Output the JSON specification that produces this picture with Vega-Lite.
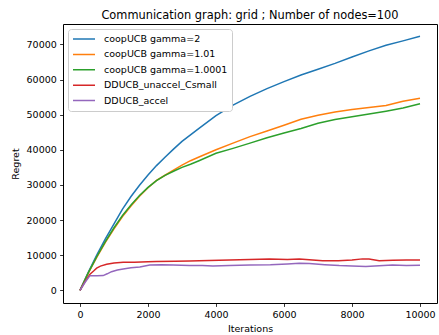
{
  "$schema": "https://vega.github.io/schema/vega-lite/v6.json",
  "width": 374,
  "height": 279,
  "autosize": {"type": "none"},
  "padding": {"left": 63, "top": 24, "right": 2, "bottom": 32},
  "title": {
    "text": "Communication graph: grid ; Number of nodes=100",
    "font": "DejaVu Sans",
    "fontSize": 11.4,
    "fontWeight": "normal",
    "color": "black",
    "anchor": "middle",
    "baseline": "alphabetic",
    "offset": 6,
    "dy": 12
  },
  "config": {
    "view": {"stroke": "black", "strokeWidth": 1},
    "axis": {
      "domain": false,
      "grid": false,
      "labelFont": "DejaVu Sans",
      "labelFontSize": 9.5,
      "labelColor": "black",
      "titleFont": "DejaVu Sans",
      "titleFontSize": 9.5,
      "titleFontWeight": "normal",
      "titleColor": "black",
      "tickColor": "black",
      "tickSize": 3.4,
      "tickWidth": 0.8,
      "labelPadding": 3.3,
      "format": "d"
    },
    "legend": {
      "labelFont": "DejaVu Sans",
      "labelFontSize": 9.5,
      "labelColor": "black"
    }
  },
  "data": {
    "values": [
      {"s": "coopUCB gamma=2", "x": 0, "y": 0},
      {"s": "coopUCB gamma=2", "x": 250, "y": 5300},
      {"s": "coopUCB gamma=2", "x": 500, "y": 10200},
      {"s": "coopUCB gamma=2", "x": 750, "y": 14700},
      {"s": "coopUCB gamma=2", "x": 1000, "y": 18900},
      {"s": "coopUCB gamma=2", "x": 1250, "y": 23100},
      {"s": "coopUCB gamma=2", "x": 1500, "y": 26700},
      {"s": "coopUCB gamma=2", "x": 1750, "y": 29900},
      {"s": "coopUCB gamma=2", "x": 2000, "y": 32800},
      {"s": "coopUCB gamma=2", "x": 2250, "y": 35500},
      {"s": "coopUCB gamma=2", "x": 2500, "y": 37900},
      {"s": "coopUCB gamma=2", "x": 2750, "y": 40200},
      {"s": "coopUCB gamma=2", "x": 3000, "y": 42400},
      {"s": "coopUCB gamma=2", "x": 3500, "y": 46100},
      {"s": "coopUCB gamma=2", "x": 4000, "y": 49700},
      {"s": "coopUCB gamma=2", "x": 4500, "y": 52700},
      {"s": "coopUCB gamma=2", "x": 5000, "y": 55200},
      {"s": "coopUCB gamma=2", "x": 5500, "y": 57400},
      {"s": "coopUCB gamma=2", "x": 6000, "y": 59400},
      {"s": "coopUCB gamma=2", "x": 6500, "y": 61300},
      {"s": "coopUCB gamma=2", "x": 7000, "y": 62950},
      {"s": "coopUCB gamma=2", "x": 7500, "y": 64600},
      {"s": "coopUCB gamma=2", "x": 8000, "y": 66400},
      {"s": "coopUCB gamma=2", "x": 8500, "y": 68150},
      {"s": "coopUCB gamma=2", "x": 9000, "y": 69750},
      {"s": "coopUCB gamma=2", "x": 9500, "y": 71000},
      {"s": "coopUCB gamma=2", "x": 10000, "y": 72300},

      {"s": "coopUCB gamma=1.01", "x": 0, "y": 0},
      {"s": "coopUCB gamma=1.01", "x": 250, "y": 5000},
      {"s": "coopUCB gamma=1.01", "x": 500, "y": 9500},
      {"s": "coopUCB gamma=1.01", "x": 750, "y": 13700},
      {"s": "coopUCB gamma=1.01", "x": 1000, "y": 17500},
      {"s": "coopUCB gamma=1.01", "x": 1250, "y": 21000},
      {"s": "coopUCB gamma=1.01", "x": 1500, "y": 24000},
      {"s": "coopUCB gamma=1.01", "x": 1750, "y": 26750},
      {"s": "coopUCB gamma=1.01", "x": 2000, "y": 29200},
      {"s": "coopUCB gamma=1.01", "x": 2250, "y": 31300},
      {"s": "coopUCB gamma=1.01", "x": 2500, "y": 32750},
      {"s": "coopUCB gamma=1.01", "x": 2750, "y": 34200},
      {"s": "coopUCB gamma=1.01", "x": 3000, "y": 35650},
      {"s": "coopUCB gamma=1.01", "x": 3250, "y": 36900},
      {"s": "coopUCB gamma=1.01", "x": 3500, "y": 37950},
      {"s": "coopUCB gamma=1.01", "x": 4000, "y": 40000},
      {"s": "coopUCB gamma=1.01", "x": 4500, "y": 41900},
      {"s": "coopUCB gamma=1.01", "x": 5000, "y": 43750},
      {"s": "coopUCB gamma=1.01", "x": 5500, "y": 45350},
      {"s": "coopUCB gamma=1.01", "x": 6000, "y": 47000},
      {"s": "coopUCB gamma=1.01", "x": 6500, "y": 48700},
      {"s": "coopUCB gamma=1.01", "x": 7000, "y": 49850},
      {"s": "coopUCB gamma=1.01", "x": 7500, "y": 50750},
      {"s": "coopUCB gamma=1.01", "x": 8000, "y": 51500},
      {"s": "coopUCB gamma=1.01", "x": 8500, "y": 52050},
      {"s": "coopUCB gamma=1.01", "x": 9000, "y": 52600},
      {"s": "coopUCB gamma=1.01", "x": 9500, "y": 53800},
      {"s": "coopUCB gamma=1.01", "x": 10000, "y": 54700},

      {"s": "coopUCB gamma=1.0001", "x": 0, "y": 0},
      {"s": "coopUCB gamma=1.0001", "x": 250, "y": 5100},
      {"s": "coopUCB gamma=1.0001", "x": 500, "y": 9700},
      {"s": "coopUCB gamma=1.0001", "x": 750, "y": 13950},
      {"s": "coopUCB gamma=1.0001", "x": 1000, "y": 17800},
      {"s": "coopUCB gamma=1.0001", "x": 1250, "y": 21300},
      {"s": "coopUCB gamma=1.0001", "x": 1500, "y": 24300},
      {"s": "coopUCB gamma=1.0001", "x": 1750, "y": 27000},
      {"s": "coopUCB gamma=1.0001", "x": 2000, "y": 29300},
      {"s": "coopUCB gamma=1.0001", "x": 2250, "y": 31200},
      {"s": "coopUCB gamma=1.0001", "x": 2500, "y": 32700},
      {"s": "coopUCB gamma=1.0001", "x": 2750, "y": 33900},
      {"s": "coopUCB gamma=1.0001", "x": 3000, "y": 35000},
      {"s": "coopUCB gamma=1.0001", "x": 3250, "y": 35900},
      {"s": "coopUCB gamma=1.0001", "x": 3500, "y": 36900},
      {"s": "coopUCB gamma=1.0001", "x": 4000, "y": 39000},
      {"s": "coopUCB gamma=1.0001", "x": 4500, "y": 40400},
      {"s": "coopUCB gamma=1.0001", "x": 5000, "y": 41900},
      {"s": "coopUCB gamma=1.0001", "x": 5500, "y": 43450},
      {"s": "coopUCB gamma=1.0001", "x": 6000, "y": 44800},
      {"s": "coopUCB gamma=1.0001", "x": 6500, "y": 46050},
      {"s": "coopUCB gamma=1.0001", "x": 7000, "y": 47550},
      {"s": "coopUCB gamma=1.0001", "x": 7500, "y": 48600},
      {"s": "coopUCB gamma=1.0001", "x": 8000, "y": 49400},
      {"s": "coopUCB gamma=1.0001", "x": 8500, "y": 50200},
      {"s": "coopUCB gamma=1.0001", "x": 9000, "y": 51000},
      {"s": "coopUCB gamma=1.0001", "x": 9500, "y": 51900},
      {"s": "coopUCB gamma=1.0001", "x": 10000, "y": 53100},

      {"s": "DDUCB_unaccel_Csmall", "x": 0, "y": 0},
      {"s": "DDUCB_unaccel_Csmall", "x": 150, "y": 2500},
      {"s": "DDUCB_unaccel_Csmall", "x": 293, "y": 4600},
      {"s": "DDUCB_unaccel_Csmall", "x": 400, "y": 5500},
      {"s": "DDUCB_unaccel_Csmall", "x": 490, "y": 6300},
      {"s": "DDUCB_unaccel_Csmall", "x": 600, "y": 6900},
      {"s": "DDUCB_unaccel_Csmall", "x": 783, "y": 7400},
      {"s": "DDUCB_unaccel_Csmall", "x": 1000, "y": 7800},
      {"s": "DDUCB_unaccel_Csmall", "x": 1270, "y": 8000},
      {"s": "DDUCB_unaccel_Csmall", "x": 1600, "y": 8000},
      {"s": "DDUCB_unaccel_Csmall", "x": 2000, "y": 8100},
      {"s": "DDUCB_unaccel_Csmall", "x": 2245, "y": 8200},
      {"s": "DDUCB_unaccel_Csmall", "x": 2800, "y": 8250},
      {"s": "DDUCB_unaccel_Csmall", "x": 3226, "y": 8370},
      {"s": "DDUCB_unaccel_Csmall", "x": 3800, "y": 8500},
      {"s": "DDUCB_unaccel_Csmall", "x": 4400, "y": 8600},
      {"s": "DDUCB_unaccel_Csmall", "x": 5000, "y": 8750},
      {"s": "DDUCB_unaccel_Csmall", "x": 5570, "y": 8950},
      {"s": "DDUCB_unaccel_Csmall", "x": 6100, "y": 8800},
      {"s": "DDUCB_unaccel_Csmall", "x": 6450, "y": 8900},
      {"s": "DDUCB_unaccel_Csmall", "x": 6745, "y": 8700},
      {"s": "DDUCB_unaccel_Csmall", "x": 7135, "y": 8400},
      {"s": "DDUCB_unaccel_Csmall", "x": 7600, "y": 8450},
      {"s": "DDUCB_unaccel_Csmall", "x": 8000, "y": 8600},
      {"s": "DDUCB_unaccel_Csmall", "x": 8310, "y": 8950},
      {"s": "DDUCB_unaccel_Csmall", "x": 8500, "y": 8900},
      {"s": "DDUCB_unaccel_Csmall", "x": 8800, "y": 8450},
      {"s": "DDUCB_unaccel_Csmall", "x": 9200, "y": 8550},
      {"s": "DDUCB_unaccel_Csmall", "x": 9600, "y": 8650},
      {"s": "DDUCB_unaccel_Csmall", "x": 10000, "y": 8650},

      {"s": "DDUCB_accel", "x": 0, "y": 0},
      {"s": "DDUCB_accel", "x": 150, "y": 2300},
      {"s": "DDUCB_accel", "x": 293, "y": 4170},
      {"s": "DDUCB_accel", "x": 500, "y": 4150},
      {"s": "DDUCB_accel", "x": 683, "y": 4200},
      {"s": "DDUCB_accel", "x": 800, "y": 4700},
      {"s": "DDUCB_accel", "x": 927, "y": 5300},
      {"s": "DDUCB_accel", "x": 1100, "y": 5800},
      {"s": "DDUCB_accel", "x": 1270, "y": 6100},
      {"s": "DDUCB_accel", "x": 1500, "y": 6400},
      {"s": "DDUCB_accel", "x": 1760, "y": 6650},
      {"s": "DDUCB_accel", "x": 2053, "y": 7200},
      {"s": "DDUCB_accel", "x": 2400, "y": 7250},
      {"s": "DDUCB_accel", "x": 2737, "y": 7200},
      {"s": "DDUCB_accel", "x": 3226, "y": 7050},
      {"s": "DDUCB_accel", "x": 3600, "y": 7100},
      {"s": "DDUCB_accel", "x": 3910, "y": 6950},
      {"s": "DDUCB_accel", "x": 4400, "y": 7100},
      {"s": "DDUCB_accel", "x": 5000, "y": 7200},
      {"s": "DDUCB_accel", "x": 5600, "y": 7300},
      {"s": "DDUCB_accel", "x": 6100, "y": 7500},
      {"s": "DDUCB_accel", "x": 6450, "y": 7700},
      {"s": "DDUCB_accel", "x": 6745, "y": 7650},
      {"s": "DDUCB_accel", "x": 7200, "y": 7300},
      {"s": "DDUCB_accel", "x": 7625, "y": 7050},
      {"s": "DDUCB_accel", "x": 8000, "y": 6950},
      {"s": "DDUCB_accel", "x": 8407, "y": 6750},
      {"s": "DDUCB_accel", "x": 8800, "y": 7000},
      {"s": "DDUCB_accel", "x": 9190, "y": 7230},
      {"s": "DDUCB_accel", "x": 9600, "y": 7100},
      {"s": "DDUCB_accel", "x": 10000, "y": 7150}
    ]
  },
  "mark": {"type": "line", "strokeWidth": 1.5, "clip": true},
  "encoding": {
    "x": {
      "field": "x",
      "type": "quantitative",
      "scale": {"domain": [-500, 10500], "nice": false, "zero": false},
      "axis": {"title": "Iterations", "values": [0, 2000, 4000, 6000, 8000, 10000], "titlePadding": 4}
    },
    "y": {
      "field": "y",
      "type": "quantitative",
      "scale": {"domain": [-3610, 75810], "nice": false, "zero": false},
      "axis": {"title": "Regret", "values": [0, 10000, 20000, 30000, 40000, 50000, 60000, 70000], "titlePadding": 6}
    },
    "color": {
      "field": "s",
      "type": "nominal",
      "sort": null,
      "scale": {
        "domain": ["coopUCB gamma=2", "coopUCB gamma=1.01", "coopUCB gamma=1.0001", "DDUCB_unaccel_Csmall", "DDUCB_accel"],
        "range": ["#1f77b4", "#ff7f0e", "#2ca02c", "#d62728", "#9467bd"]
      },
      "legend": {
        "title": null,
        "orient": "top-left",
        "offset": 5,
        "symbolType": "stroke",
        "symbolSize": 484,
        "symbolStrokeWidth": 1.5,
        "labelOffset": 8,
        "clipHeight": 12,
        "rowPadding": 3.4,
        "padding": 4,
        "fillColor": "white",
        "strokeColor": "#cccccc",
        "cornerRadius": 3
      }
    }
  }
}
